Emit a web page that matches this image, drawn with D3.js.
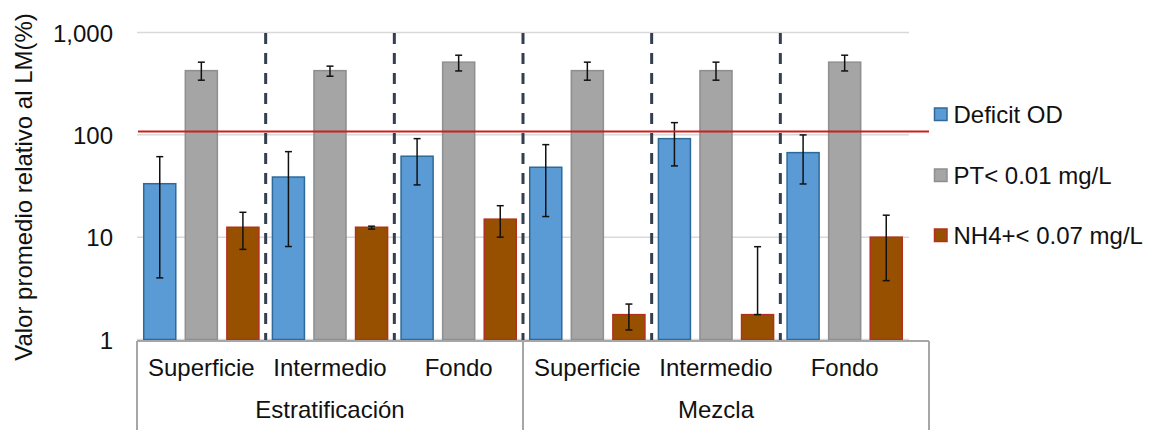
<!DOCTYPE html>
<html>
<head>
<meta charset="utf-8">
<script src="https://cdn.jsdelivr.net/npm/d3@7"></script>
<style>
  html, body { margin: 0; padding: 0; background: #fff; }
  svg { display: block; font-family: "Liberation Sans", Arial, sans-serif; }
</style>
</head>
<body>
<svg id="chart" width="1151" height="430"></svg>
<script>
// Categories: depth level within each mixing regime
const categories = ["E-Superficie", "E-Intermedio", "E-Fondo", "M-Superficie", "M-Intermedio", "M-Fondo"];
const categoryLabels = ["Superficie", "Intermedio", "Fondo", "Superficie", "Intermedio", "Fondo"];
const groups = ["Estratificación", "Mezcla"];
const seriesNames = ["Deficit OD", "PT< 0.01 mg/L", "NH4+< 0.07 mg/L"];

// Mean value relative to the limit (%) per series
const deficitOD = [33.3, 38.7, 61.8, 48.2, 91.8, 67.0];
const ptValues  = [424, 424, 513, 424, 424, 513];
const nh4Values = [12.5, 12.5, 15.0, 1.75, 1.75, 10.0];

// Error bar extents (low / high)
const deficitLow  = [4.0, 8.1, 32.4, 15.9, 49.7, 33.1];
const deficitHigh = [61.2, 68.5, 91.8, 80.2, 131.6, 99.8];
const ptLow  = [342, 374, 421, 342, 342, 421];
const ptHigh = [513, 469, 600, 513, 513, 600];
const nh4Low  = [7.6, 12.0, 10.0, 1.24, 1.75, 3.76];
const nh4High = [17.5, 12.8, 20.3, 2.22, 8.07, 16.4];

// Reference limit line (100 % of LM)
const limitValue = 108;

const yTicks = [1, 10, 100, 1000];

const seriesFill   = ["#5b9bd5", "#a5a5a5", "#975000"];
const seriesStroke = ["#2e6a99", "#8f8f8f", "#b3301f"];

const series = [
  { name: seriesNames[0], values: deficitOD, low: deficitLow, high: deficitHigh },
  { name: seriesNames[1], values: ptValues,  low: ptLow,      high: ptHigh },
  { name: seriesNames[2], values: nh4Values, low: nh4Low,     high: nh4High }
];

const svg = d3.select("#chart");
const plotLeft = 137, plotRight = 909, plotTop = 32.5, plotBottom = 339.5;
const axisRight = 929;
const textColor = "#111";

const x = d3.scaleBand().domain(categories).range([plotLeft, plotRight]).padding(0);
const xs = d3.scaleBand().domain(d3.range(series.length)).range([0, x.bandwidth()])
  .paddingInner(0.205).paddingOuter(0.15);
const y = d3.scaleLog().domain([1, 1000]).range([plotBottom, plotTop]);

// Horizontal gridlines
svg.append("g").selectAll("line").data(yTicks).join("line")
  .attr("x1", plotLeft).attr("x2", plotRight)
  .attr("y1", d => y(d)).attr("y2", d => y(d))
  .attr("stroke", "#d9d9d9").attr("stroke-width", 1.5);

// Y axis tick labels
const yAxis = d3.axisLeft(y).tickValues(yTicks).tickFormat(d3.format(",")).tickSize(0).tickPadding(0);
const yg = svg.append("g").attr("transform", `translate(113,0)`).call(yAxis);
yg.select(".domain").remove();
yg.selectAll("text").attr("font-size", 24).attr("fill", textColor)
  .attr("font-family", "Liberation Sans, Arial, sans-serif").attr("dy", "0.36em");

// Y axis title
svg.append("text")
  .attr("transform", `translate(32,187) rotate(-90)`)
  .attr("text-anchor", "middle")
  .attr("font-size", 24).attr("fill", textColor)
  .text("Valor promedio relativo al LM(%)");

// Bars
const barG = svg.append("g");
series.forEach((s, si) => {
  barG.append("g").selectAll("rect").data(s.values).join("rect")
    .attr("x", (d, i) => x(categories[i]) + xs(si) + 0.5)
    .attr("width", xs.bandwidth() - 1)
    .attr("y", d => y(d))
    .attr("height", d => y(1) - y(d))
    .attr("fill", seriesFill[si])
    .attr("stroke", seriesStroke[si]).attr("stroke-width", 1.5);
});

// Error bars
const errG = svg.append("g").attr("stroke", "#111").attr("stroke-width", 1.5);
series.forEach((s, si) => {
  s.values.forEach((v, i) => {
    const cx = x(categories[i]) + xs(si) + xs.bandwidth() / 2;
    const y0 = y(s.low[i]), y1 = y(s.high[i]);
    errG.append("line").attr("x1", cx).attr("x2", cx).attr("y1", y0).attr("y2", y1);
    errG.append("line").attr("x1", cx - 3.5).attr("x2", cx + 3.5).attr("y1", y0).attr("y2", y0);
    errG.append("line").attr("x1", cx - 3.5).attr("x2", cx + 3.5).attr("y1", y1).attr("y2", y1);
  });
});

// Limit line
svg.append("line")
  .attr("x1", plotLeft + 1).attr("x2", axisRight)
  .attr("y1", y(limitValue)).attr("y2", y(limitValue))
  .attr("stroke", "#cc1f1f").attr("stroke-width", 2);

// Dashed separators between depth categories
svg.append("g").selectAll("line").data(categories.slice(1)).join("line")
  .attr("x1", d => x(d)).attr("x2", d => x(d))
  .attr("y1", plotTop + 0.5).attr("y2", plotBottom + 1)
  .attr("stroke", "#333f50").attr("stroke-width", 3)
  .attr("stroke-dasharray", "11,9");

// Category axis frame
const axisY = 341;
const frame = svg.append("g").attr("stroke", "#a6a6a6").attr("stroke-width", 2);
frame.append("line").attr("x1", plotLeft).attr("x2", axisRight).attr("y1", axisY).attr("y2", axisY);
[plotLeft, x(categories[3]), axisRight].forEach(px => {
  frame.append("line").attr("x1", px).attr("x2", px).attr("y1", axisY).attr("y2", 430);
});

// Category labels
svg.append("g").selectAll("text").data(categories).join("text")
  .attr("x", d => x(d) + x.bandwidth() / 2)
  .attr("y", 376)
  .attr("text-anchor", "middle")
  .attr("font-size", 24).attr("fill", textColor)
  .text((d, i) => categoryLabels[i]);

// Group labels
svg.append("g").selectAll("text").data(groups).join("text")
  .attr("x", (d, gi) => (x(categories[gi * 3]) + x(categories[gi * 3 + 2]) + x.bandwidth()) / 2)
  .attr("y", 418)
  .attr("text-anchor", "middle")
  .attr("font-size", 24).attr("fill", textColor)
  .text(d => d);

// Legend
const legend = svg.append("g").attr("transform", "translate(934.5,0)");
const legendY = [114, 175, 235];
series.forEach((s, si) => {
  const g = legend.append("g").attr("transform", `translate(0,${legendY[si]})`);
  g.append("rect").attr("x", 0).attr("y", -6).attr("width", 12.5).attr("height", 12.5)
    .attr("fill", seriesFill[si]).attr("stroke", seriesStroke[si]).attr("stroke-width", 1.5);
  g.append("text").attr("x", 19).attr("y", 0).attr("dy", "0.36em")
    .attr("font-size", 24).attr("fill", textColor).text(s.name);
});
</script>
</body>
</html>
